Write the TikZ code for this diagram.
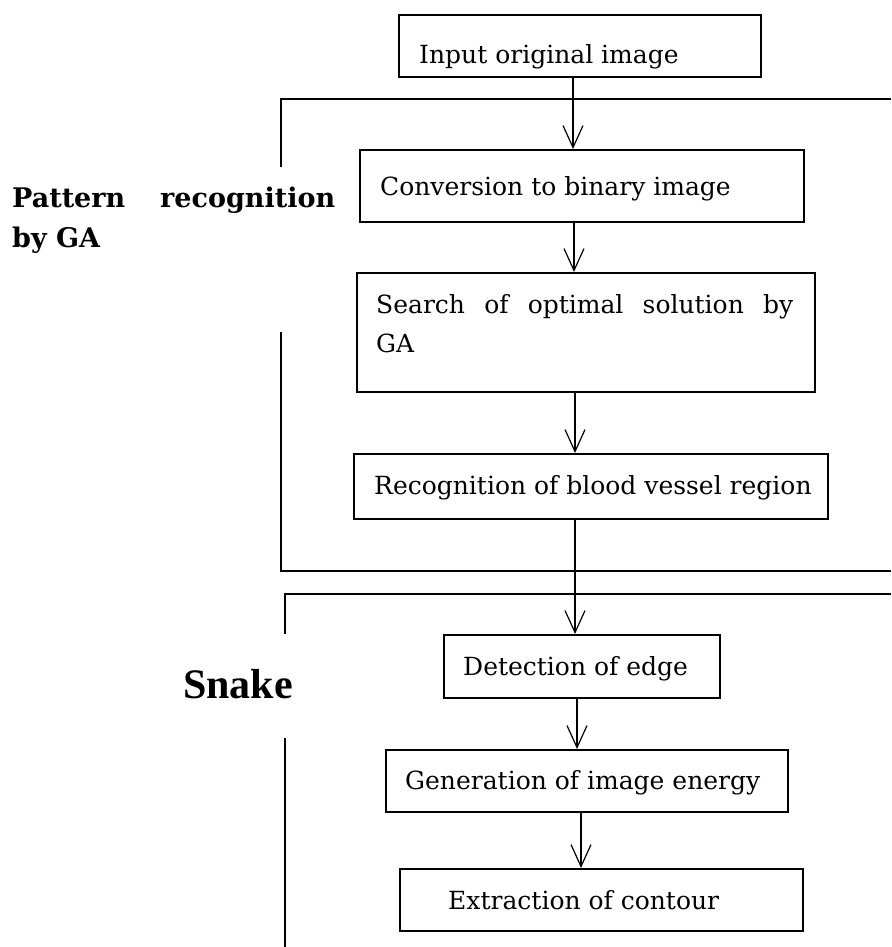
\documentclass[tikz,border=0pt]{standalone}
\usepackage{fontspec}
\setmainfont{DejaVu Serif}
\newfontfamily\snakefont{Liberation Serif}
\usetikzlibrary{arrows.meta}
\begin{document}
\begin{tikzpicture}[x=1pt,y=-1pt,
  box/.style={draw, line width=1.6pt, anchor=north west, inner sep=0pt},
  txt/.style={anchor=base west, inner sep=0pt, font=\fontsize{25}{30}\selectfont},
  lbl/.style={anchor=base west, inner sep=0pt, font=\fontsize{27}{32}\selectfont\bfseries},
  arr/.style={line width=1.2pt, -{Straight Barb[length=22pt,width=20pt]}},
  brk/.style={line width=1.6pt}]
\useasboundingbox (0,0) rectangle (891,947);
% boxes
\node[box, minimum width=362pt, minimum height=62pt] (input) at (398,14) {};
\node[box, minimum width=444pt, minimum height=72pt] (conv) at (359,149) {};
\node[box, minimum width=458pt, minimum height=119pt] (search) at (356,272) {};
\node[box, minimum width=474pt, minimum height=65pt] (recog) at (353,453) {};
\node[box, minimum width=276pt, minimum height=63pt] (detect) at (443,634) {};
\node[box, minimum width=402pt, minimum height=62pt] (gen) at (385,749) {};
\node[box, minimum width=403pt, minimum height=62pt] (extr) at (399,868) {};
% box texts
\node[txt] (tin) at (419,64) {Input original image};
\node[txt] (tconv) at (380,195) {Conversion to binary image};
\node[txt] (tsearch) at (376,313) {\makebox[417pt][s]{Search of optimal solution by}};
\node[txt] (tsearchb) at (376,352) {GA};
\node[txt] (trec) at (374,494) {Recognition of blood vessel region};
\node[txt] (tdet) at (463,675) {Detection of edge};
\node[txt] (tgen) at (405,789) {Generation of image energy};
\node[txt] (text) at (448,909) {Extraction of contour};
% side labels
\node[lbl] (lpat) at (12,207) {\makebox[323pt][s]{Pattern recognition}};
\node[lbl] (lby) at (12,247) {by GA};
\node[anchor=base west, inner sep=0pt, font=\snakefont\fontsize{42}{48}\selectfont\bfseries] (lsnake) at (183,698) {Snake};
% brackets
\coordinate (b1a) at (281,167);
\coordinate (b1b) at (281,99);
\coordinate (b1c) at (891,99);
\coordinate (b1d) at (281,332);
\coordinate (b1e) at (281,571);
\coordinate (b1f) at (891,571);
\draw[brk] (b1a) -- (b1b) -- (b1c);
\draw[brk] (b1d) -- (b1e) -- (b1f);
\coordinate (b2a) at (285,634);
\coordinate (b2b) at (285,594);
\coordinate (b2c) at (891,594);
\coordinate (b2d) at (285,738);
\coordinate (b2e) at (285,947);
\draw[brk] (b2a) -- (b2b) -- (b2c);
\draw[brk] (b2d) -- (b2e);
% connectors
\coordinate (x1) at (573,0);
\coordinate (x2) at (574,0);
\coordinate (x3) at (575,0);
\coordinate (x5) at (577,0);
\coordinate (x6) at (581,0);
\draw[arr] (input.south -| x1) -- (conv.north -| x1);
\draw[arr] (conv.south -| x2) -- (search.north -| x2);
\draw[arr] (search.south -| x3) -- (recog.north -| x3);
\draw[arr] (recog.south -| x3) -- (detect.north -| x3);
\draw[arr] (detect.south -| x5) -- (gen.north -| x5);
\draw[arr] (gen.south -| x6) -- (extr.north -| x6);
\end{tikzpicture}
\end{document}
